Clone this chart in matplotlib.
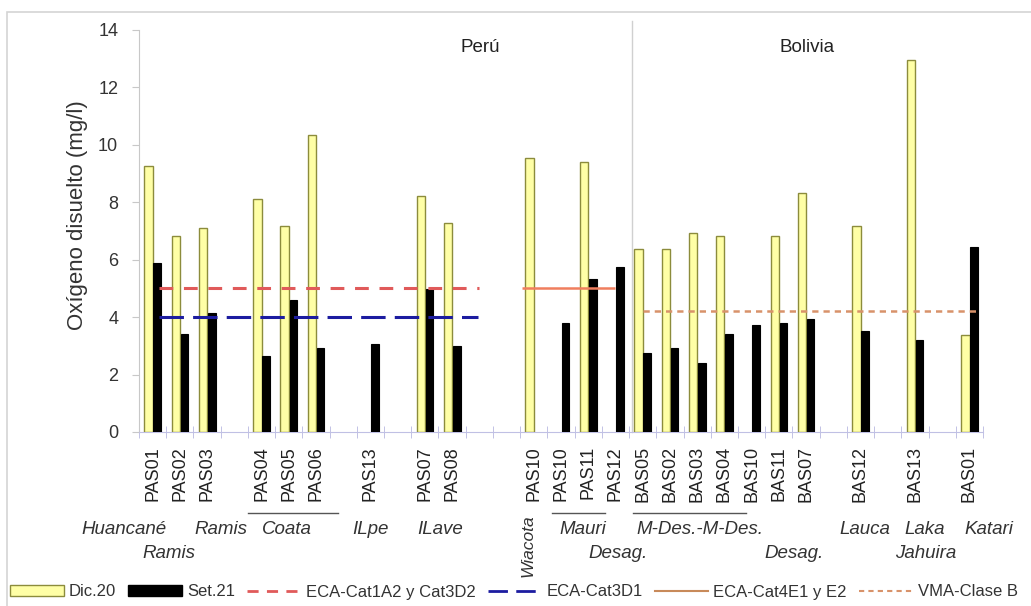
import matplotlib.pyplot as plt
import matplotlib.transforms as mtransforms
from matplotlib.patches import Patch, Rectangle
from matplotlib.lines import Line2D
import numpy as np

plt.rcParams['font.family'] = ['Liberation Sans', 'DejaVu Sans']

# estaciones de muestreo y su posicion en el eje de categorias
estaciones = ['PAS01', 'PAS02', 'PAS03', 'PAS04', 'PAS05', 'PAS06', 'PAS13', 'PAS07', 'PAS08',
              'PAS10', 'PAS10', 'PAS11', 'PAS12', 'BAS05', 'BAS02', 'BAS03', 'BAS04', 'BAS10',
              'BAS11', 'BAS07', 'BAS12', 'BAS13', 'BAS01']
posiciones = [0, 1, 2, 4, 5, 6, 8, 10, 11, 14, 15, 16, 17, 18, 19, 20, 21, 22, 23, 24, 26, 28, 30]

# oxigeno disuelto (mg/l); nan = sin dato
dic20 = [9.26, 6.84, 7.10, 8.13, 7.18, 10.34, np.nan, 8.23, 7.27,
         9.53, np.nan, 9.42, np.nan, 6.36, 6.36, 6.92, 6.83, np.nan,
         6.82, 8.31, 7.17, 12.96, 3.37]
set21 = [5.90, 3.40, 4.16, 2.65, 4.61, 2.94, 3.06, 4.98, 3.00,
         np.nan, 3.80, 5.33, 5.73, 2.75, 2.94, 2.42, 3.40, 3.72,
         3.78, 3.93, 3.51, 3.20, 6.45]

# estandares de calidad: (nombre, valor, inicio, fin)
eca_cat1a2 = ('ECA-Cat1A2 y Cat3D2', 5.0, 0.25, 12.0)
eca_cat3d1 = ('ECA-Cat3D1', 4.0, 0.25, 11.95)
eca_cat4e1 = ('ECA-Cat4E1 y E2', 5.0, 13.55, 17.0)
vma_claseb = ('VMA-Clase B', 4.2, 18.0, 30.25)

# cuencas / rios debajo de las estaciones: (texto, x, fila)
cuencas = [('Huancané', -1.05, 0), ('Ramis', 0.6, 1), ('Ramis', 2.5, 0), ('Coata', 4.95, 0),
           ('ILpe', 8.0, 0), ('ILave', 10.55, 0), ('Mauri', 15.8, 0), ('Desag.', 17.1, 1),
           ('M-Des.-M-Des.', 20.1, 0), ('Desag.', 23.55, 1), ('Lauca', 26.15, 0),
           ('Laka', 28.35, 0), ('Jahuira', 28.4, 1), ('Katari', 30.7, 0)]
subrayados = [(3.5, 6.8), (14.68, 16.63), (17.66, 21.78)]

W, H = 1031, 606
fig = plt.figure(figsize=(W / 100, H / 100), dpi=100)
fig.patch.set_facecolor('white')
ax = fig.add_axes([139 / W, 1 - 432 / H, (983 - 139) / W, (432 - 30) / H])

x = np.array(posiciones, dtype=float)
ax.bar(x - 0.15, dic20, width=0.31, color='#ffffa6', edgecolor='#8c8c3c', linewidth=1.0, zorder=3)
ax.bar(x + 0.17, set21, width=0.28, color='black', edgecolor='black', linewidth=0.8, zorder=3)

ax.hlines(eca_cat1a2[1], eca_cat1a2[2], eca_cat1a2[3], colors='#e05a5a', linewidth=2.2,
          linestyles=(0, (4.5, 3.5)), zorder=4)
ax.hlines(eca_cat3d1[1], eca_cat3d1[2], eca_cat3d1[3], colors='#1c1ca0', linewidth=2.2,
          linestyles=(0, (8, 3)), zorder=4)
ax.hlines(eca_cat4e1[1], eca_cat4e1[2], eca_cat4e1[3], colors='#f07e5e', linewidth=1.8,
          linestyles='solid', zorder=4)
ax.hlines(vma_claseb[1], vma_claseb[2], vma_claseb[3], colors='#d8926a', linewidth=1.8,
          linestyles=(0, (2.5, 2)), zorder=4)

# separacion Peru / Bolivia
ax.plot([17.6, 17.6], [0, 14.3], color='#d0d0d0', linewidth=1.0, clip_on=False, zorder=1)
ax.text(12.05, 13.4, 'Perú', ha='center', va='center', fontsize=13.5, color='#222222')
ax.text(24.05, 13.4, 'Bolivia', ha='center', va='center', fontsize=13.5, color='#222222')

ax.set_xlim(-0.5, 30.5)
ax.set_ylim(0, 14)
ax.set_yticks(np.arange(0, 15, 2))
ax.tick_params(axis='y', length=5, color='#c8c8c8', labelsize=13, labelcolor='#333333', pad=10)
ax.set_xticks(posiciones)
ax.set_xticklabels(estaciones, rotation=90, fontsize=13, color='#222222')
ax.tick_params(axis='x', which='major', length=0, pad=10)
ax.set_xticks(np.arange(-0.5, 31, 1), minor=True)
ax.tick_params(axis='x', which='minor', length=8, direction='inout', color='#b8b8e0')
for s in ['top', 'right']:
    ax.spines[s].set_visible(False)
ax.spines['left'].set_color('#c8c8c8')
ax.spines['bottom'].set_color('#c0c0e4')

fig.text(78 / W, 1 - 215 / H, 'Oxígeno disuelto (mg/l)', rotation=90, ha='center', va='center',
         fontsize=16, color='#333333')

# nombres de cuencas
tr = mtransforms.blended_transform_factory(ax.transData, fig.transFigure)
filas = [1 - 530 / H, 1 - 553 / H]
for texto, xc, fila in cuencas:
    ax.text(xc, filas[fila], texto, transform=tr, ha='center', va='center', fontsize=13.5,
            style='italic', color='#333333', clip_on=False)
ax.text(13.8, 1 - 546 / H, 'Wiacota', transform=tr, ha='center', va='center', rotation=90,
        fontsize=12.5, style='italic', color='#333333', clip_on=False)
for x0, x1 in subrayados:
    ax.plot([x0, x1], [1 - 513 / H] * 2, transform=tr, color='#555555', linewidth=1.0, clip_on=False)

# marco exterior
fig.patches.append(Rectangle((7 / W, -0.1), 1.2, 1.1 - 12 / H, transform=fig.transFigure,
                             fill=False, edgecolor='#d4d4d4', linewidth=1.2))

handles = [
    Patch(facecolor='#ffffa6', edgecolor='#8c8c3c', label='Dic.20'),
    Patch(facecolor='black', edgecolor='black', label='Set.21'),
    Line2D([], [], color='#e05a5a', linewidth=2.0, linestyle=(0, (4, 3)), label=eca_cat1a2[0]),
    Line2D([], [], color='#1c1ca0', linewidth=2.0, linestyle=(0, (7, 3)), label=eca_cat3d1[0]),
    Line2D([], [], color='#c88a5a', linewidth=1.5, label=eca_cat4e1[0]),
    Line2D([], [], color='#d8926a', linewidth=1.5, linestyle=(0, (2.5, 2)), label=vma_claseb[0]),
]
fig.legend(handles=handles, loc='center', bbox_to_anchor=(514 / W, 1 - 592 / H), ncol=6,
           frameon=False, fontsize=12, handlelength=3.2, handleheight=0.6,
           handletextpad=0.3, columnspacing=0.75, labelcolor='#333333',
           borderpad=0.1, borderaxespad=0.0)

fig.savefig('out.png', dpi=100)
